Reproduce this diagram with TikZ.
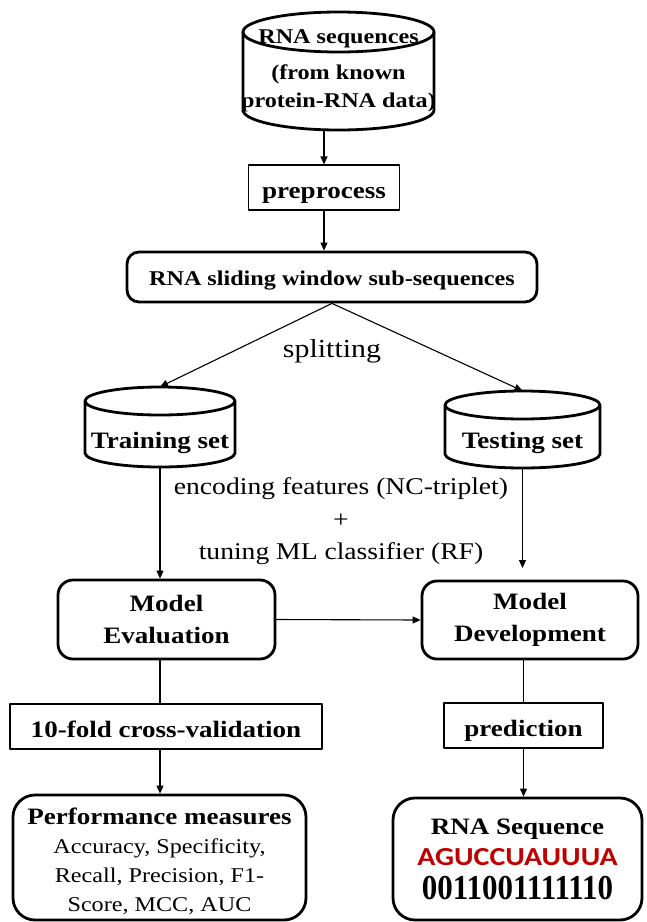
\documentclass[tikz,border=0pt]{standalone}
\usepackage{fontspec}
\usepackage{graphicx}
\setmainfont{Liberation Serif}[FakeStretch=1.15]
\newfontfamily\seqfont{Carlito}[FakeStretch=1.15]
\usetikzlibrary{arrows.meta}
\definecolor{seqred}{RGB}{192,0,0}
\newcommand{\mtxt}{\mdseries\fontsize{21}{29}\selectfont}

\begin{document}
\begin{tikzpicture}[x=1pt, y=-1pt, line cap=round, line join=round,
  thinbox/.style={draw, line width=1.1pt, inner sep=0pt, text height=21pt, text depth=0pt,
    font=\bfseries\fontsize{23.5}{28}\selectfont},
  roundbox/.style={draw, line width=2.8pt, rounded corners=15pt, inner sep=0pt, align=center,
    font=\bfseries\fontsize{23.5}{32}\selectfont},
  dbtext/.style={inner sep=0pt, align=center, font=\bfseries\fontsize{23.5}{28}\selectfont},
  dbline/.style={line width=2.8pt},
  lbl/.style={inner sep=0pt, align=center, font=\fontsize{24}{32.5}\selectfont},
  link/.style={line width=1.1pt},
  arr/.style={link, -{Triangle[length=8pt, width=7pt]}}]

  %% ==== cylinders (drawn by hand, the nodes below only carry text) ====
  \draw[dbline] (338.5,32) ellipse (95.5 and 20);
  \draw[dbline] (243,32) -- (243,110) arc (180:0:95.5 and 20) -- (434,32);
  \draw[dbline] (160,401) ellipse (75 and 14);
  \draw[dbline] (85,401) -- (85,453) arc (180:0:75 and 14) -- (235,401);
  \draw[dbline] (522.5,405) ellipse (77.5 and 14);
  \draw[dbline] (445,405) -- (445,454) arc (180:0:77.5 and 14) -- (600,405);

  %% ==== nodes ====
  \node[dbtext, minimum width=191pt, minimum height=118pt,
        font=\bfseries\fontsize{21}{28}\selectfont] (db) at (338.5,71)
        {RNA sequences\\[8pt](from known\\protein-RNA data)};
  \node[thinbox, minimum width=151pt, minimum height=45pt] (pre) at (324,187.5) {preprocess};
  \node[roundbox, rounded corners=12pt, minimum width=410pt, minimum height=50pt,
        text height=16pt, text depth=0pt,
        font=\bfseries\fontsize{21}{28}\selectfont] (slide) at (332,277)
        {RNA sliding window sub-sequences};
  \node[dbtext, minimum width=150pt, minimum height=80pt,
        text height=42pt, text depth=0pt] (train) at (160,427) {Training set};
  \node[dbtext, minimum width=155pt, minimum height=77pt,
        text height=37pt, text depth=0pt] (test) at (522.5,429.5) {Testing set};
  \node[roundbox, minimum width=217pt, minimum height=79pt] (eval) at (166.5,619.5) {Model\\Evaluation};
  \node[roundbox, minimum width=216pt, minimum height=78pt] (dev) at (530,620) {Model\\Development};
  \node[thinbox, minimum width=312pt, minimum height=45pt] (cv) at (166,726.5) {10-fold cross-validation};
  \node[thinbox, minimum width=159pt, minimum height=45pt] (pred) at (523.5,725.5) {prediction};
  \node[roundbox, rounded corners=22pt, minimum width=293pt, minimum height=125pt,
        font=\bfseries\fontsize{23.5}{29}\selectfont] (perf) at (159.5,857.5)
        {\rule{0pt}{25pt}Performance measures\\
         \mtxt Accuracy, Specificity,\\
         \mtxt Recall, Precision, F1-\\
         \mtxt Score, MCC, AUC};
  \node[roundbox, rounded corners=22pt, minimum width=249pt, minimum height=122pt,
        font=\bfseries\fontsize{23.5}{31.5}\selectfont] (seq) at (517.5,859)
        {RNA Sequence\\
         \seqfont\fontsize{26}{31.5}\selectfont\color{seqred}AGUCCUAUUUA\\[2pt]
         \scalebox{0.77}[1]{\fontsize{35}{31.5}\selectfont 0011001111110}};

  %% ==== free text ====
  \node[lbl, anchor=base, font=\fontsize{26}{32}\selectfont] (split) at (332,357) {splitting};
  \node[lbl] (feat) at (341,521.5) {encoding features (NC-triplet)\\+\\tuning ML classifier (RF)};

  %% ==== connectors ====
  \draw[arr] (db.south -| pre.north) -- (pre.north);
  \draw[arr] (pre.south) -- (pre.south |- slide.north);
  \draw[arr] (slide.south) -- (train.north);
  \draw[arr] (slide.south) -- (test.north);
  \draw[arr] (train.south) -- (train.south |- eval.north);
  \coordinate (devin) at (522.5,568);
  \draw[arr] (test.south) -- (devin);
  \draw[arr] (eval.east) -- (dev.west);
  \draw[link] (train.south |- eval.south) -- (train.south |- cv.north);
  \draw[arr] (train.south |- cv.south) -- (train.south |- perf.north);
  \draw[link] (pred.north |- dev.south) -- (pred.north);
  \draw[arr] (pred.south) -- (pred.south |- seq.north);

  % fix the canvas to the full page
  \pgfresetboundingbox
  \path[use as bounding box] (0,0) rectangle (647,922);
\end{tikzpicture}
\end{document}
